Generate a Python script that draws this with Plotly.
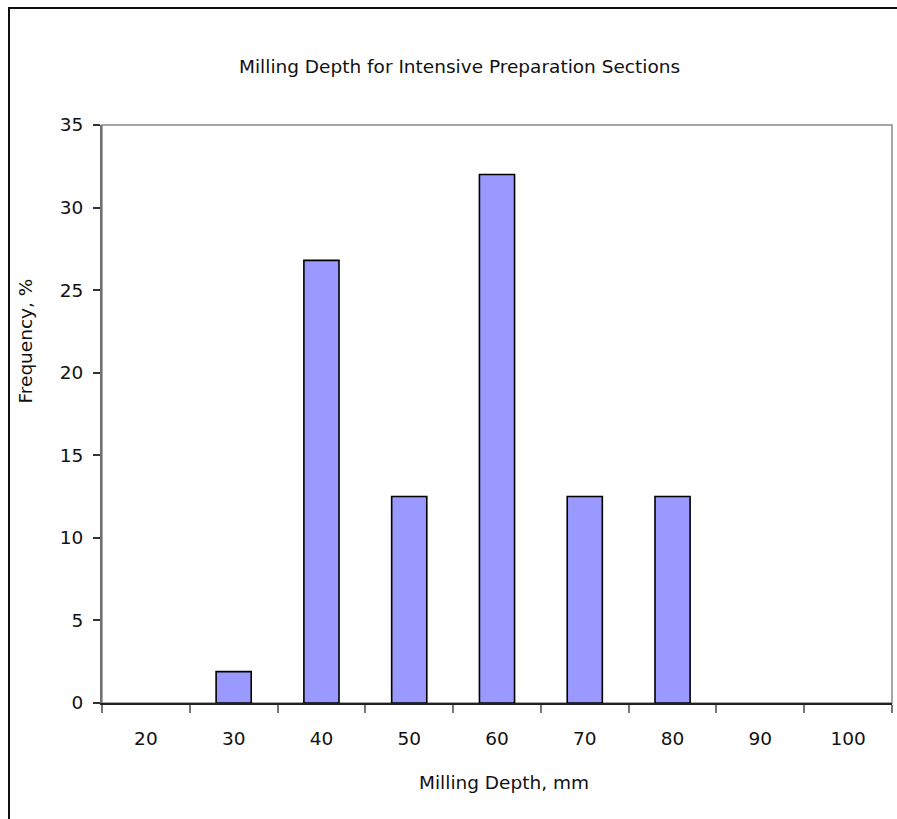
import plotly.graph_objects as go

# Milling depth histogram (percent of sections per 10 mm class)
depth_classes = ["20", "30", "40", "50", "60", "70", "80", "90", "100"]
frequency_pct = [0, 1.9, 26.8, 12.5, 32.0, 12.5, 12.5, 0, 0]
y_ticks = [0, 5, 10, 15, 20, 25, 30, 35]

title_text = "Milling Depth for Intensive Preparation Sections"
x_title = "Milling Depth, mm"
y_title = "Frequency, %"

W, H = 897, 819
L, R, T, B = 102, 5, 125, 116
pw, ph = W - L - R, H - T - B


def px_x(px):
    return (px - L) / pw


def px_y(py):
    return (H - B - py) / ph


FONT = "DejaVu Sans"
FS = 18.5
TXT = "#111111"

# empty classes get no outline so nothing is drawn at zero height
bar_line_widths = [1.6 if v > 0 else 0 for v in frequency_pct]

fig = go.Figure(
    go.Bar(
        x=depth_classes,
        y=frequency_pct,
        marker=dict(color="#9999FF",
                    line=dict(color="#000000", width=bar_line_widths)),
        hoverinfo="x+y",
    )
)

fig.update_layout(
    width=W,
    height=H,
    margin=dict(l=L, r=R, t=T, b=B, pad=0),
    paper_bgcolor="white",
    plot_bgcolor="white",
    bargap=0.6,
    showlegend=False,
    font=dict(family=FONT, size=FS, color=TXT),
    xaxis=dict(
        type="category",
        categoryorder="array",
        categoryarray=depth_classes,
        showgrid=False,
        zeroline=False,
        showline=True,
        linecolor="#222222",
        linewidth=2,
        ticks="outside",
        tickson="boundaries",
        ticklen=8,
        tickwidth=2,
        tickcolor="#777777",
        ticklabelstandoff=18,
        tickfont=dict(family=FONT, size=FS, color=TXT),
    ),
    yaxis=dict(
        range=[0, 35],
        tickvals=y_ticks,
        showgrid=False,
        zeroline=False,
        showline=True,
        linecolor="#707070",
        linewidth=2,
        ticks="outside",
        ticklen=7,
        tickwidth=2,
        tickcolor="#333333",
        ticklabelstandoff=6,
        tickfont=dict(family=FONT, size=FS, color=TXT),
    ),
    shapes=[
        # plot-area frame (top and right edges)
        dict(type="rect", xref="paper", yref="paper", x0=0, y0=0, x1=1, y1=1,
             line=dict(color="#8a8a8a", width=1.5), layer="below"),
        # outer chart border
        dict(type="path", xref="paper", yref="paper",
             path=f"M {px_x(9)} {px_y(840)} L {px_x(9)} {px_y(8)} L {px_x(910)} {px_y(8)}",
             line=dict(color="#111111", width=2)),
    ],
    annotations=[
        dict(text=title_text, xref="paper", yref="paper",
             x=px_x(459), y=px_y(66), xanchor="center", yanchor="middle",
             showarrow=False, font=dict(family=FONT, size=FS, color=TXT)),
        dict(text=x_title, xref="paper", yref="paper",
             x=px_x(504), y=px_y(782), xanchor="center", yanchor="middle",
             showarrow=False, font=dict(family=FONT, size=FS, color=TXT)),
        dict(text=y_title, xref="paper", yref="paper",
             x=px_x(25), y=px_y(406), xanchor="center", yanchor="bottom",
             textangle=-90, showarrow=False,
             font=dict(family=FONT, size=FS, color=TXT)),
    ],
)

fig.write_html("out.html")
